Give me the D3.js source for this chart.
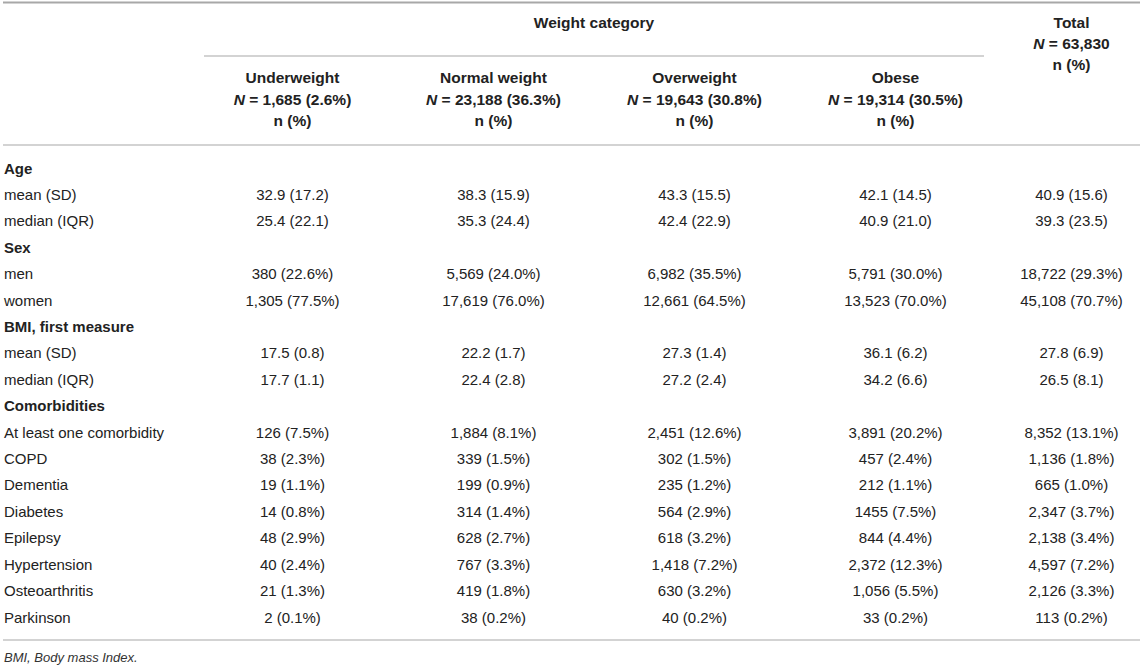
<!DOCTYPE html>
<html>
<head>
<meta charset="utf-8">
<script src="https://cdn.jsdelivr.net/npm/d3@7"></script>
<style>
  body { margin: 0; background: #fff; }
  svg text { font-family: "Liberation Sans", Arial, Helvetica, sans-serif; fill: #222; }
</style>
</head>
<body>
<div id="table"></div>
<script>
// Table data
const groups = ['Underweight', 'Normal weight', 'Overweight', 'Obese'];
const groupN = ['1,685 (2.6%)', '23,188 (36.3%)', '19,643 (30.8%)', '19,314 (30.5%)'];
const totalN = '63,830';

const ageRows = [
    ['mean (SD)', '32.9 (17.2)', '38.3 (15.9)', '43.3 (15.5)', '42.1 (14.5)', '40.9 (15.6)'],
    ['median (IQR)', '25.4 (22.1)', '35.3 (24.4)', '42.4 (22.9)', '40.9 (21.0)', '39.3 (23.5)']
];
const sexRows = [
    ['men', '380 (22.6%)', '5,569 (24.0%)', '6,982 (35.5%)', '5,791 (30.0%)', '18,722 (29.3%)'],
    ['women', '1,305 (77.5%)', '17,619 (76.0%)', '12,661 (64.5%)', '13,523 (70.0%)', '45,108 (70.7%)']
];
const bmiRows = [
    ['mean (SD)', '17.5 (0.8)', '22.2 (1.7)', '27.3 (1.4)', '36.1 (6.2)', '27.8 (6.9)'],
    ['median (IQR)', '17.7 (1.1)', '22.4 (2.8)', '27.2 (2.4)', '34.2 (6.6)', '26.5 (8.1)']
];
const comorbidityRows = [
    ['At least one comorbidity', '126 (7.5%)', '1,884 (8.1%)', '2,451 (12.6%)', '3,891 (20.2%)', '8,352 (13.1%)'],
    ['COPD', '38 (2.3%)', '339 (1.5%)', '302 (1.5%)', '457 (2.4%)', '1,136 (1.8%)'],
    ['Dementia', '19 (1.1%)', '199 (0.9%)', '235 (1.2%)', '212 (1.1%)', '665 (1.0%)'],
    ['Diabetes', '14 (0.8%)', '314 (1.4%)', '564 (2.9%)', '1455 (7.5%)', '2,347 (3.7%)'],
    ['Epilepsy', '48 (2.9%)', '628 (2.7%)', '618 (3.2%)', '844 (4.4%)', '2,138 (3.4%)'],
    ['Hypertension', '40 (2.4%)', '767 (3.3%)', '1,418 (7.2%)', '2,372 (12.3%)', '4,597 (7.2%)'],
    ['Osteoarthritis', '21 (1.3%)', '419 (1.8%)', '630 (3.2%)', '1,056 (5.5%)', '2,126 (3.3%)'],
    ['Parkinson', '2 (0.1%)', '38 (0.2%)', '40 (0.2%)', '33 (0.2%)', '113 (0.2%)']
];
const sections = [
    { title: 'Age', rows: ageRows },
    { title: 'Sex', rows: sexRows },
    { title: 'BMI, first measure', rows: bmiRows },
    { title: 'Comorbidities', rows: comorbidityRows }
];
const footnote = 'BMI, Body mass Index.';

const width = 1143, height = 665;
const fontSize = 15;
const lineColor = '#c4c4c4';

const svg = d3.select('#table').append('svg')
    .attr('width', width)
    .attr('height', height);

// Flatten sections into table lines
const lines = [];
sections.forEach(s => {
    lines.push({ type: 'section', label: s.title });
    s.rows.forEach(r => lines.push({ type: 'row', label: r[0], values: r.slice(1) }));
});

// Scales
const tableLeft = 3, tableRight = 1140;
const xGroup = d3.scaleBand().domain(groups).range([192, 996]);
const xTotal = d3.scaleBand().domain(['Total']).range([1000, 1143]);
const colCenter = i => i < groups.length
    ? xGroup(groups[i]) + xGroup.bandwidth() / 2
    : xTotal('Total') + xTotal.bandwidth() / 2;
const y = d3.scaleLinear().domain([0, lines.length - 1]).range([168, 617]);

// Rules
svg.append('line')
    .attr('x1', tableLeft).attr('x2', tableRight)
    .attr('y1', 2.5).attr('y2', 2.5)
    .attr('stroke', '#a8a8a8').attr('stroke-width', 2);
svg.append('line')
    .attr('x1', xGroup.range()[0] + 12).attr('x2', xGroup.range()[1] - 12)
    .attr('y1', 56).attr('y2', 56)
    .attr('stroke', lineColor).attr('stroke-width', 1.5);
svg.append('line')
    .attr('x1', tableLeft).attr('x2', tableRight)
    .attr('y1', 145).attr('y2', 145)
    .attr('stroke', lineColor).attr('stroke-width', 1.5);
svg.append('line')
    .attr('x1', tableLeft).attr('x2', tableRight)
    .attr('y1', 640).attr('y2', 640)
    .attr('stroke', lineColor).attr('stroke-width', 1.5);

// Header
const head = svg.append('g')
    .style('font-size', '15.5px')
    .style('font-weight', 'bold')
    .attr('text-anchor', 'middle')
    .attr('dominant-baseline', 'central');

head.append('text')
    .attr('x', (xGroup.range()[0] + xGroup.range()[1]) / 2)
    .attr('y', 22)
    .text('Weight category');

groups.forEach((g, i) => {
    const cx = colCenter(i);
    head.append('text').attr('x', cx).attr('y', 77).text(g);
    const t = head.append('text').attr('x', cx).attr('y', 99);
    t.append('tspan').style('font-style', 'italic').text('N');
    t.append('tspan').text(' = ' + groupN[i]);
    head.append('text').attr('x', cx).attr('y', 120).text('n (%)');
});

const tx = colCenter(groups.length);
head.append('text').attr('x', tx).attr('y', 22).text('Total');
const tn = head.append('text').attr('x', tx).attr('y', 43);
tn.append('tspan').style('font-style', 'italic').text('N');
tn.append('tspan').text(' = ' + totalN);
head.append('text').attr('x', tx).attr('y', 64).text('n (%)');

// Body
const body = svg.append('g')
    .style('font-size', fontSize + 'px')
    .attr('dominant-baseline', 'central');

const rowG = body.selectAll('.line')
    .data(lines)
    .enter()
    .append('g')
    .attr('class', 'line')
    .attr('transform', (d, i) => `translate(0,${y(i)})`);

rowG.append('text')
    .attr('x', 4)
    .style('font-weight', d => d.type === 'section' ? 'bold' : 'normal')
    .text(d => d.label);

rowG.filter(d => d.type === 'row')
    .selectAll('.cell')
    .data(d => d.values)
    .enter()
    .append('text')
    .attr('class', 'cell')
    .attr('text-anchor', 'middle')
    .attr('x', (d, i) => colCenter(i))
    .text(d => d);

// Footnote
svg.append('text')
    .attr('x', 4)
    .attr('y', 657)
    .attr('dominant-baseline', 'central')
    .style('font-size', '13px')
    .style('font-style', 'italic')
    .style('fill', '#333')
    .text(footnote);
</script>
</body>
</html>
